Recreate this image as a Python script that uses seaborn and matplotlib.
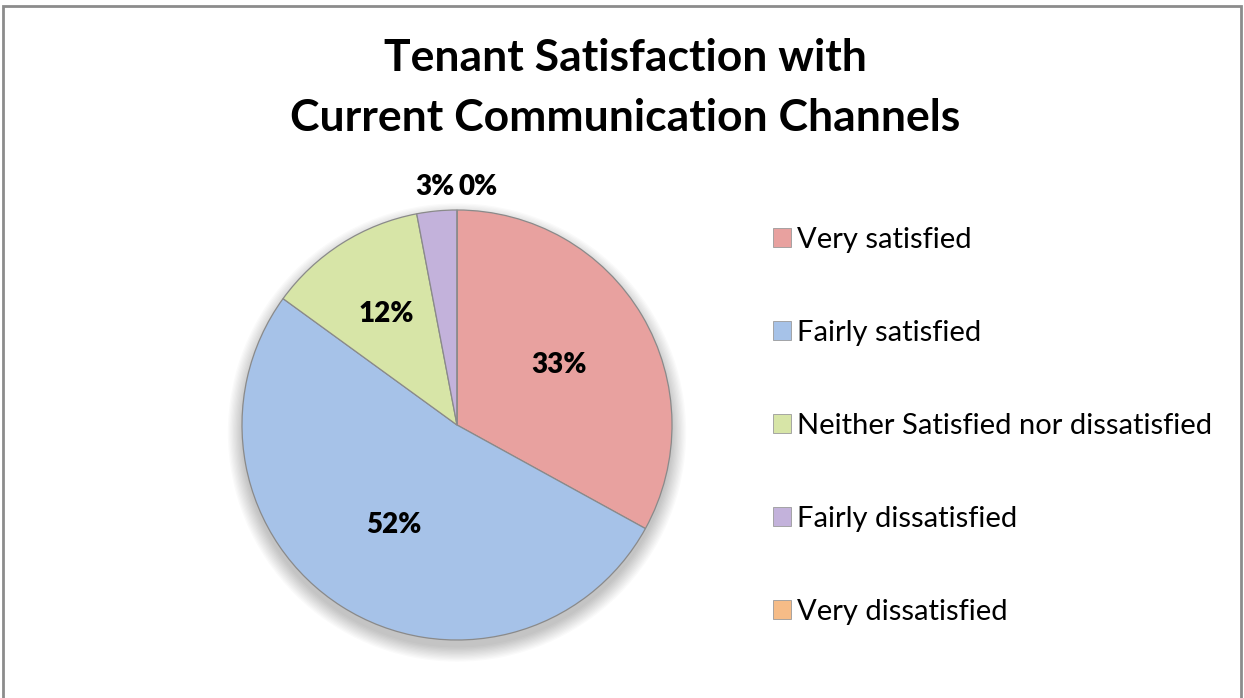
import numpy as np
import matplotlib
matplotlib.use('Agg')
import matplotlib.pyplot as plt
import seaborn as sns
from matplotlib.patches import Rectangle, Circle, Patch

categories = ['Very satisfied', 'Fairly satisfied', 'Neither Satisfied nor dissatisfied',
              'Fairly dissatisfied', 'Very dissatisfied']
shares = [33, 52, 12, 3, 0]
colors = ['#E8A19F', '#A6C2E8', '#D7E5A7', '#C3B2DB', '#F6BC87']

sns.set_theme(style='white')
plt.rcParams['font.family'] = ['Lato', 'DejaVu Sans']
plt.rcParams['text.color'] = 'black'

fig = plt.figure(figsize=(12.44, 6.98), dpi=100)

# frame around the chart
fig.patches.append(Rectangle((3 / 1244, -0.05), 1238 / 1244, 1.05 - 6 / 698,
                             transform=fig.transFigure, fill=False,
                             edgecolor='#8c8c8c', linewidth=2))

fig.text(625 / 1244, 1 - 58 / 698, 'Tenant Satisfaction with', ha='center', va='center',
         fontsize=32, fontweight='bold')
fig.text(625 / 1244, 1 - 118 / 698, 'Current Communication Channels', ha='center', va='center',
         fontsize=32, fontweight='bold')

ax = fig.add_axes([242 / 1244, 58 / 698, 430 / 1244, 430 / 698])

# soft shadow below the pie
for k in range(12):
    ax.add_patch(Circle((0, -0.035), 1.0 + 0.006 * k, color='black', alpha=0.018, lw=0,
                        zorder=0, clip_on=False))

wedges, _ = ax.pie(shares, colors=colors, startangle=90, counterclock=False,
                   wedgeprops=dict(edgecolor='#8a8a8a', linewidth=0.9))

# percentage labels
small = []
for w, v in zip(wedges, shares):
    mid = np.deg2rad((w.theta1 + w.theta2) / 2)
    if v >= 10:
        r = 0.55 if v > 20 else 0.61
        ax.text(r * np.cos(mid), r * np.sin(mid), f'{v}%', ha='center', va='center',
                fontsize=20, fontweight='heavy', color='black')
    else:
        small.append((mid, v))
for i, (mid, v) in enumerate(small):
    a = mid if i == 0 else mid - np.deg2rad(5)
    r = 1.11
    ax.text(r * np.cos(a), r * np.sin(a), f'{v}%', ha='center', va='center',
            fontsize=20, fontweight='heavy', color='black')

ax.set_xlim(-1, 1)
ax.set_ylim(-1, 1)
ax.set_aspect('equal')
ax.axis('off')

handles = [Patch(facecolor=c, edgecolor='#9a9a9a', linewidth=0.6) for c in colors]
fig.legend(handles, categories, loc='upper left', bbox_to_anchor=(761 / 1244, 1 - 215 / 698),
           frameon=False, fontsize=21, handlelength=0.62, handleheight=0.62,
           handletextpad=0.22, labelspacing=2.30, borderaxespad=0)

fig.savefig('out.png', dpi=100)
